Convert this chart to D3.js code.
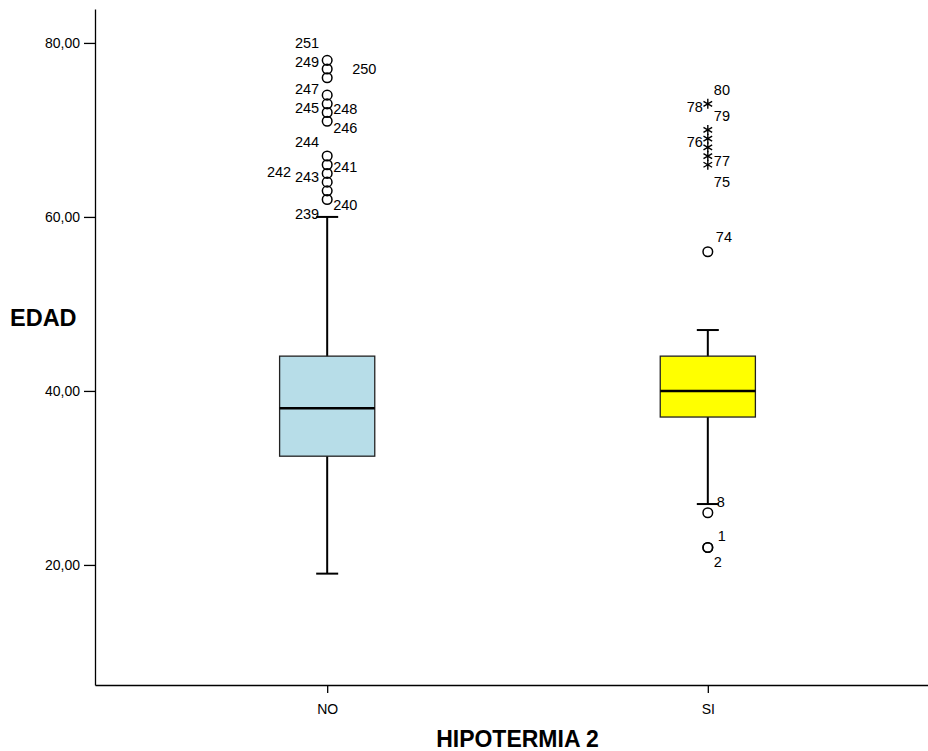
<!DOCTYPE html>
<html lang="es">
<head>
  <meta charset="UTF-8" />
  <title>EDAD por HIPOTERMIA 2</title>
  <style>
    html, body {
      margin: 0;
      background: #fff;
      font-family: "Liberation Sans", Arial, sans-serif;
    }
    svg { display: block; }
    .axis path, .axis line { stroke: #000; }
    .axis text { fill: #000; }
  </style>
  <script src="https://d3js.org/d3.v7.min.js"></script>
</head>
<body>
  <svg id="chart" width="928" height="751"></svg>
  <script>
    // box summaries, one value per group
    const groups = ["NO", "SI"];
    const whiskerLow = [19, 27];
    const q1 = [32.5, 37];
    const median = [38, 40];
    const q3 = [44, 44];
    const whiskerHigh = [60, 47];
    const boxColors = ["#b7dde8", "#ffff00"];
    const yTicks = [20, 40, 60, 80];

    // outliers: group, value, case label, kind (o = outlier, * = extreme)
    const outGroup = ["NO","NO","NO","NO","NO","NO","NO","NO","NO","NO","NO","NO","NO",
                      "SI","SI","SI","SI","SI","SI","SI","SI","SI","SI"];
    const outValue = [78, 77, 76, 74, 73, 72, 71, 67, 66, 65, 64, 63, 62,
                      73, 70, 69, 68, 67, 66, 56, 26, 22, 22];
    const outCase  = [251, 249, 250, 247, 245, 248, 246, 244, 241, 242, 243, 240, 239,
                      80, 78, 79, 76, 77, 75, 74, 8, 1, 2];
    const outKind  = ["o","o","o","o","o","o","o","o","o","o","o","o","o",
                      "*","*","*","*","*","*","o","o","o","o"];

    // where SPSS put each case label, relative to its marker (layout only)
    const labelOffset = {
      251: [-8, -12], 249: [-8, -2.4], 250: [25, -3.8], 247: [-8, -1.2],
      245: [-8, 8.8], 248: [6, 1.4], 246: [6, 12], 244: [-8, -8.8],
      241: [6, 6.9], 242: [-36, 3.2], 243: [-8, -0.5], 240: [6, 19.1], 239: [-8, 19.4],
      80: [6, -9], 78: [-5, -18], 79: [6, -18], 76: [-5, -0.7], 77: [6, 10], 75: [6, 22.5],
      74: [8, -9.5], 8: [9, -6], 1: [10, -7], 2: [6, 19.5]
    };

    const svg = d3.select("#chart");

    const y = d3.scaleLinear().domain([6.2, 83.9]).range([685, 9]);
    const x = d3.scalePoint().domain(groups).range([95, 940]).padding(0.61);
    const boxW = x.step() * 0.25;
    const capW = 22;

    // axes
    svg.append("g")
      .attr("class", "axis")
      .attr("transform", "translate(95,0)")
      .call(d3.axisLeft(y).tickValues(yTicks).tickSize(11).tickSizeOuter(0).tickPadding(4)
        .tickFormat(d => d3.format(".2f")(d).replace(".", ",")))
      .call(g => g.selectAll("text").attr("font-size", 14).attr("font-family", "Liberation Sans, Arial"))
      .call(g => g.selectAll("path, line").attr("stroke-width", 1.3));

    svg.append("g")
      .attr("class", "axis")
      .attr("transform", "translate(0,685)")
      .call(d3.axisBottom(x).tickSize(8).tickSizeOuter(0).tickPadding(11))
      .call(g => g.selectAll("text").attr("font-size", 14).attr("font-family", "Liberation Sans, Arial"))
      .call(g => g.selectAll("path, line").attr("stroke-width", 1.3));

    // axis titles
    svg.append("text")
      .attr("x", 10).attr("y", 326)
      .attr("font-size", 23.5).attr("font-weight", "bold")
      .text("EDAD");

    svg.append("text")
      .attr("x", (95 + 940) / 2).attr("y", 747)
      .attr("text-anchor", "middle")
      .attr("font-size", 23).attr("font-weight", "bold")
      .text("HIPOTERMIA 2");

    // boxes
    const boxes = svg.append("g");
    groups.forEach((g, i) => {
      const cx = x(g);
      const b = boxes.append("g");
      b.append("line")
        .attr("x1", cx).attr("x2", cx)
        .attr("y1", y(whiskerLow[i])).attr("y2", y(whiskerHigh[i]))
        .attr("stroke", "#000").attr("stroke-width", 2);
      [whiskerLow[i], whiskerHigh[i]].forEach(v => {
        b.append("line")
          .attr("x1", cx - capW / 2).attr("x2", cx + capW / 2)
          .attr("y1", y(v)).attr("y2", y(v))
          .attr("stroke", "#000").attr("stroke-width", 2);
      });
      b.append("rect")
        .attr("x", cx - boxW / 2).attr("width", boxW)
        .attr("y", y(q3[i])).attr("height", y(q1[i]) - y(q3[i]))
        .attr("fill", boxColors[i])
        .attr("stroke", "#222").attr("stroke-width", 1.3);
      b.append("line")
        .attr("x1", cx - boxW / 2).attr("x2", cx + boxW / 2)
        .attr("y1", y(median[i])).attr("y2", y(median[i]))
        .attr("stroke", "#000").attr("stroke-width", 2.5);
    });

    // outliers and case labels
    const pts = svg.append("g");
    const star = d3.symbol().type(d3.symbolAsterisk).size(70);
    outValue.forEach((v, i) => {
      const px = x(outGroup[i]), py = y(v);
      if (outKind[i] === "*") {
        pts.append("path")
          .attr("d", star)
          .attr("transform", `translate(${px},${py})`)
          .attr("fill", "none").attr("stroke", "#000").attr("stroke-width", 1.4);
      } else {
        pts.append("circle")
          .attr("cx", px).attr("cy", py).attr("r", 4.8)
          .attr("fill", "none").attr("stroke", "#000").attr("stroke-width", 1.5);
      }
      const off = labelOffset[outCase[i]] || [6, 0];
      pts.append("text")
        .attr("x", px + off[0]).attr("y", py + off[1])
        .attr("text-anchor", off[0] < 0 ? "end" : "start")
        .attr("font-size", 14.5)
        .text(outCase[i]);
    });
  </script>
</body>
</html>
